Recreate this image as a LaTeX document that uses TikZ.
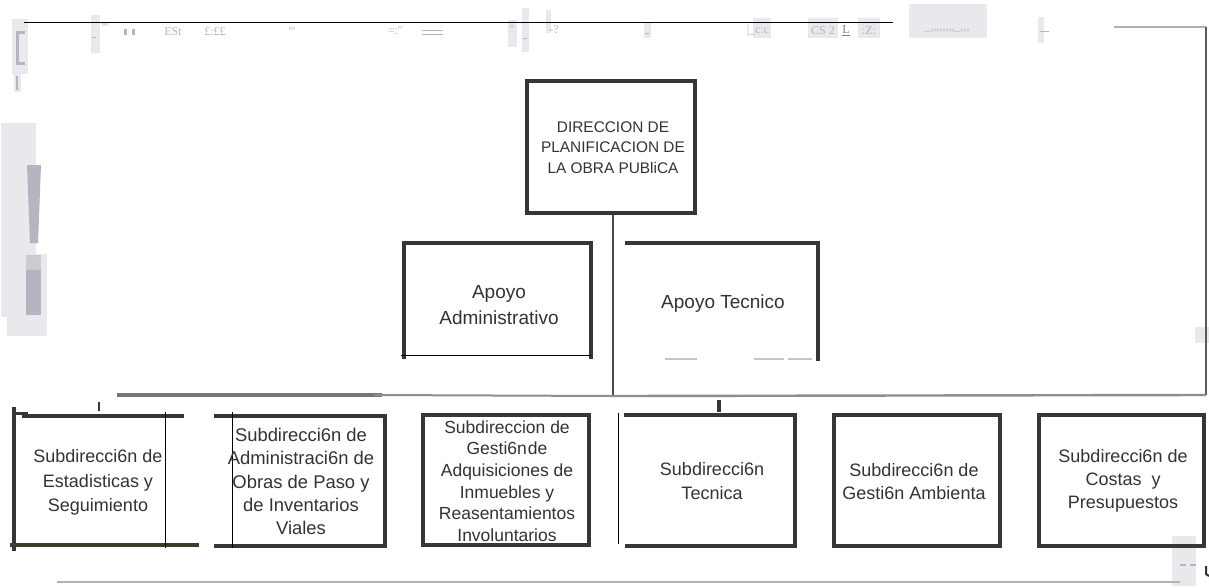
\documentclass[tikz,border=0pt]{standalone}
\usepackage{fontspec}
\setmainfont{Liberation Sans}
\newfontfamily\scanserif{Liberation Serif}
\definecolor{boxgray}{HTML}{363634}
\definecolor{txtgray}{HTML}{333333}
\definecolor{busdark}{HTML}{777777}
\definecolor{buslight}{HTML}{8E8E8E}
\definecolor{edgegray}{HTML}{5A5A5A}
\definecolor{faint}{HTML}{C4C4C4}
\definecolor{noisebg}{HTML}{E8E9EC}
\definecolor{noisefg}{HTML}{B4B5C0}
\begin{document}
\begin{tikzpicture}[x=1pt,y=-1pt,
  frame/.style={line width=4.3pt, draw=boxgray, line cap=rect},
  hair/.style={line width=0.9pt, draw=black},
  lbl/.style={align=center, text=txtgray, inner sep=0pt},
  slot/.style={draw=none, rectangle, inner sep=0pt, outer sep=0pt},
  noise/.style={fill=noisebg, draw=none},
  noisebar/.style={fill=noisefg, draw=none},
  noisetxt/.style={text=noisefg, inner sep=0pt, font=\scanserif\fontsize{12}{12}\selectfont}]

\useasboundingbox[fill=white] (0,0) rectangle (1209,587);

% ---------- scan specks along the top and left margin ----------
\fill[noise] (12,19) rectangle (28,74);
\fill[noise] (14,74) rectangle (21,92);
\draw[noisefg, line width=3pt] (25,32) -- (17,32) -- (17,63) -- (25,63);
\draw[noisefg, line width=1.5pt] (17,76) -- (17,90);
\fill[noise] (91,15) rectangle (100,53);
\draw[noisefg, line width=1pt] (92,37) -- (96,37);
\node[noisetxt] (n1) at (105,28) {'''};
\fill[noisefg] (124,29) rectangle (127,35);
\fill[noisefg] (132,29) rectangle (135,35);
\node[noisetxt] (n2) at (173,32) {ESt};
\node[noisetxt] (n3) at (215,32) {£:££};
\node[noisetxt] (n4) at (292,32) {'''};
\node[noisetxt] (n5) at (395,31) {=:''};
\draw[noisefg, line width=0.8pt] (422,30) -- (443,30) (422,34) -- (443,34);
\fill[noise] (508,20) rectangle (517,47);
\node[noisetxt] (n6) at (512,30) {''};
\fill[noise] (522,8) rectangle (529,52);
\draw[noisefg, line width=1pt] (523,38) -- (527,38);
\fill[noise] (546,10) rectangle (551,33);
\node[noisetxt] (n7) at (554,30) {-?};
\fill[noise] (644,23) rectangle (651,38);
\draw[noisefg, line width=1pt] (645,33) -- (649,33);
\fill[noise] (753,18) rectangle (771,38);
\node[noisetxt] (n8) at (758,31) {|\_c:c};
\fill[noise] (808,18) rectangle (838,38);
\node[noisetxt] (n9) at (823,31) {CS 2};
\node[noisetxt, text=gray] (n10) at (846,31) {\underline{L}};
\fill[noise] (858,18) rectangle (880,38);
\node[noisetxt] (n11) at (869,31) {:Z:};
\fill[noise] (909,4) rectangle (987,38);
\node[noisetxt] (n12) at (947,31) {\_,,,,,,,,\_,,,};
\fill[noise] (1038,17) rectangle (1044,43);
\draw[noisefg, line width=1pt] (1040,31) -- (1049,31);
\fill[noise] (1,123) rectangle (36,317);
\fill[noisebar] (27,165) -- (41,165) -- (38,243) -- (30,243) -- cycle;
\fill[noise] (7,254) rectangle (47,336);
\fill[noisebar] (26,270) rectangle (41,315);
\fill[noisefg!70] (26,255) rectangle (41,270);
\fill[noise] (1195,327) rectangle (1209,343);
\fill[noise] (1172,536) rectangle (1196,586);
\draw[noisefg, line width=1.5pt] (1180,565) -- (1186,565) (1190,565) -- (1196,565);
\draw[black!80, line width=2pt] (1206,566) -- (1206,574) -- (1209,576);

% ---------- page rules ----------
\draw[black, line width=1pt] (24,22) -- (893,22);
\coordinate (topR) at (1114,27);
\coordinate (cornerTR) at (1206,27);
\coordinate (busR) at (1206,395);
\coordinate (busL) at (117,395);
\coordinate (bus) at (613,396);
\draw[faint!90!black, line width=2pt] (topR) -- (cornerTR);
\draw[edgegray, line width=2pt] (cornerTR) -- (busR);
\draw[gray!60, line width=2pt] (57,582) -- (1180,582);

% ---------- box slots ----------
\node[slot, minimum width=168pt, minimum height=132pt] (dir) at (611,147) {};
\node[slot, minimum width=187pt, minimum height=114pt] (admin) at (497.5,300) {};
\node[slot, minimum width=191pt, minimum height=116pt] (tec) at (722.5,301) {};
\node[slot, minimum width=151pt, minimum height=129pt] (s1) at (89.5,480.5) {};
\node[slot, minimum width=153pt, minimum height=130pt] (s2) at (308.5,481) {};
\node[slot, minimum width=166pt, minimum height=130pt] (s3) at (506,480) {};
\node[slot, minimum width=177pt, minimum height=131pt] (s4) at (706.5,480.5) {};
\node[slot, minimum width=166pt, minimum height=131pt] (s5) at (917,480.5) {};
\node[slot, minimum width=165pt, minimum height=131pt] (s6) at (1121.5,480.5) {};

% ---------- trunk and bus ----------
\draw[boxgray!90, line width=2pt] (dir.south -| bus) -- (bus);
\draw[busdark, line width=4pt] (busL) -- (382,395);
\draw[buslight, line width=2pt] (374,395) -- (bus);
\draw[buslight, line width=2.4pt] (bus) -- (busR);
\draw[boxgray, line width=2.6pt] (99,402) -- (99,411);
\draw[boxgray, line width=3.4pt] (719,400) -- (719,412);

% ---------- box outlines ----------
\draw[frame] (dir.north west) rectangle (dir.south east);

\draw[frame] (admin.south west) -- (admin.north west) -- (admin.north east) -- (admin.south east);
\draw[hair] ([xshift=-3pt,yshift=2pt]admin.south west) -- ([yshift=2pt]admin.south east);

\draw[frame] (tec.north west) -- (tec.north east) -- (tec.south east);
\draw[faint, line width=1.5pt] (665,359) -- (697,359) (754,359) -- (784,359) (788,359) -- (812,359);

\draw[frame] ([yshift=7pt]s1.north west) -- ([yshift=-4pt]s1.south west);
\draw[line width=3pt, boxgray] ([yshift=3pt]s1.north west) -- ([xshift=14pt,yshift=3pt]s1.north west);
\draw[frame] ([xshift=10pt]s1.north west) -- ([xshift=17pt]s1.north east);
\draw[frame, draw=boxgray!90!olive] ([xshift=-2pt]s1.south west) -- ([xshift=32pt]s1.south east);
\draw[hair] ([yshift=4pt]s1.north east) -- ([yshift=-3pt]s1.south east);

\draw[frame] ([xshift=-16pt]s2.north west) -- (s2.north east) -- (s2.south east) -- ([xshift=-16pt]s2.south west);
\draw[hair] ([yshift=4pt]s2.north west) -- ([yshift=-2pt]s2.south west);

\draw[frame] (s3.north west) rectangle (s3.south east);

\draw[frame] ([xshift=8pt]s4.north west) -- (s4.north east) -- (s4.south east) -- ([xshift=9pt]s4.south west);
\draw[hair] ([yshift=2pt]s4.north west) -- ([yshift=2pt]s4.south west);

\draw[frame] (s5.north west) rectangle (s5.south east);
\draw[frame] (s6.north west) rectangle (s6.south east);

% ---------- labels ----------
\node[lbl, font=\fontsize{15.4}{20.5}\selectfont] (tdir) at (613,147.5)
  {DIRECCION DE\\PLANIFICACION DE\\LA OBRA PUBliCA};
\node[lbl, font=\fontsize{19}{26}\selectfont] (tadmin) at (499,305) {Apoyo\\Administrativo};
\node[lbl, font=\fontsize{19}{26}\selectfont] (ttec) at (723,304) {Apoyo Tecnico};
\node[lbl, font=\fontsize{18}{24.5}\selectfont] (t1) at (98,482.5)
  {Subdirecci6n de\\Estadisticas y\\Seguimiento};
\node[lbl, font=\fontsize{18.4}{23.2}\selectfont] (t2) at (301,481.5)
  {Subdirecci6n de\\Administraci6n de\\Obras de Paso y\\de Inventarios\\Viales};
\node[lbl, font=\fontsize{17.5}{21.6}\selectfont] (t3) at (507,481)
  {Subdireccion de\\Gesti6n\kern1pt de\\Adquisiciones de\\Inmuebles y\\Reasentamientos\\Involuntarios};
\node[lbl, font=\fontsize{18}{24}\selectfont] (t4) at (712,481) {Subdirecci6n\\Tecnica};
\node[lbl, font=\fontsize{18}{23}\selectfont] (t5) at (914,481.5) {Subdirecci6n de\\Gesti6n Ambienta};
\node[lbl, font=\fontsize{18}{23}\selectfont] (t6) at (1123,481) {Subdirecci6n de\\Costas\ \ y\\Presupuestos};
\end{tikzpicture}
\end{document}
